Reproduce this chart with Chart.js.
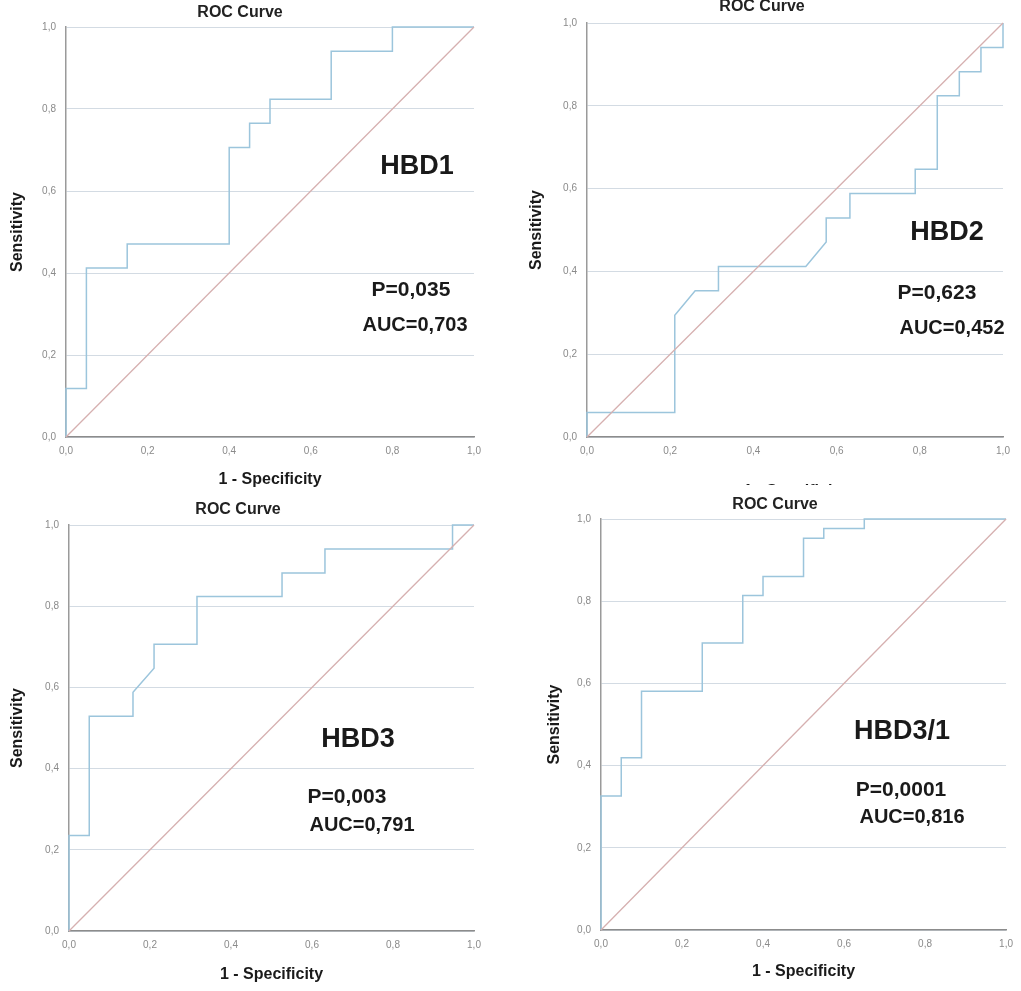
<!DOCTYPE html>
<html>
<head>
<meta charset="utf-8">
<script src="https://cdn.jsdelivr.net/npm/chart.js@4.4.1/dist/chart.umd.min.js"></script>
<style>
    body { margin: 0; background: #fff; }
    #wrap { position: relative; width: 1021px; height: 991px; overflow: hidden; }
    canvas { position: absolute; }
    #c4 { background: #fff; z-index: 2; }
</style>
</head>
<body>
<div id="wrap">
    <canvas id="c1" width="510" height="495" style="left:0;top:0"></canvas>
    <canvas id="c2" width="511" height="500" style="left:510px;top:0"></canvas>
    <canvas id="c3" width="510" height="496" style="left:0;top:495px"></canvas>
    <canvas id="c4" width="511" height="506" style="left:510px;top:485px"></canvas>
</div>
<script>
// ROC curve points (1 - specificity, sensitivity)
const hbd1X = [0, 0, 0.05, 0.05, 0.15, 0.15, 0.40, 0.40, 0.45, 0.45, 0.50, 0.50, 0.65, 0.65, 0.80, 0.80, 1.0];
const hbd1Y = [0, 0.118, 0.118, 0.412, 0.412, 0.471, 0.471, 0.706, 0.706, 0.765, 0.765, 0.824, 0.824, 0.941, 0.941, 1.0, 1.0];

const hbd2X = [0, 0, 0.211, 0.211, 0.26, 0.316, 0.316, 0.526, 0.575, 0.575, 0.632, 0.632, 0.789, 0.789, 0.842, 0.842, 0.895, 0.895, 0.947, 0.947, 1.0, 1.0];
const hbd2Y = [0, 0.059, 0.059, 0.294, 0.353, 0.353, 0.412, 0.412, 0.471, 0.529, 0.529, 0.588, 0.588, 0.647, 0.647, 0.824, 0.824, 0.882, 0.882, 0.941, 0.941, 1.0];

const hbd3X = [0, 0, 0.05, 0.05, 0.158, 0.158, 0.21, 0.21, 0.316, 0.316, 0.526, 0.526, 0.632, 0.632, 0.947, 0.947, 1.0];
const hbd3Y = [0, 0.235, 0.235, 0.529, 0.529, 0.588, 0.647, 0.706, 0.706, 0.824, 0.824, 0.882, 0.882, 0.941, 0.941, 1.0, 1.0];

const hbd31X = [0, 0, 0.05, 0.05, 0.10, 0.10, 0.25, 0.25, 0.35, 0.35, 0.40, 0.40, 0.50, 0.50, 0.55, 0.55, 0.65, 0.65, 1.0];
const hbd31Y = [0, 0.326, 0.326, 0.419, 0.419, 0.581, 0.581, 0.698, 0.698, 0.814, 0.814, 0.860, 0.860, 0.953, 0.953, 0.977, 0.977, 1.0, 1.0];

const refX = [0, 1];
const refY = [0, 1];

const axisTicks = [0, 0.2, 0.4, 0.6, 0.8, 1.0];

const markerNames = ['HBD1', 'HBD2', 'HBD3', 'HBD3/1'];
const pValues = ['0,035', '0,623', '0,003', '0,0001'];
const aucValues = ['0,703', '0,452', '0,791', '0,816'];

const FONT = "'Liberation Sans', Arial, sans-serif";

// layout of each panel inside its canvas
const panels = [
    { id: 'c1', x: hbd1X, y: hbd1Y, yW: 66, xH: 58, pad: { top: 27, right: 36 }, xtPad: 7, ytPad: 10,
      title: [240, 13], name: [417, 167], p: [411, 290], auc: [415, 325] },
    { id: 'c2', x: hbd2X, y: hbd2Y, yW: 77, xH: 63, pad: { top: 23, right: 18 }, xtPad: 0, ytPad: 19,
      title: [252, 7], name: [437, 233], p: [427, 293], auc: [442, 328] },
    { id: 'c3', x: hbd3X, y: hbd3Y, yW: 69, xH: 60, pad: { top: 30, right: 36 }, xtPad: 8, ytPad: 10,
      title: [238, 15], name: [358, 245], p: [347, 302], auc: [362, 330] },
    { id: 'c4', x: hbd31X, y: hbd31Y, yW: 91, xH: 61, pad: { top: 34, right: 11 }, xtPad: 11, ytPad: 37,
      title: [265, 20], name: [392, 247], p: [391, 305], auc: [402, 332] }
];

const fmt = v => v.toFixed(1).replace('.', ',');

function toPoints(xs, ys) {
    return xs.map((x, i) => ({ x: x, y: ys[i] }));
}

const panelText = {
    id: 'panelText',
    afterDraw(chart, args, opts) {
        const ctx = chart.ctx;
        ctx.save();
        ctx.textAlign = 'center';
        ctx.textBaseline = 'middle';
        ctx.fillStyle = '#222';
        ctx.font = 'bold 16px ' + FONT;
        ctx.fillText('ROC Curve', opts.title[0], opts.title[1]);
        ctx.fillStyle = '#1a1a1a';
        ctx.font = 'bold 27px ' + FONT;
        ctx.fillText(opts.name, opts.namePos[0], opts.namePos[1]);
        ctx.font = 'bold 21px ' + FONT;
        ctx.fillText('P=' + opts.pVal, opts.pPos[0], opts.pPos[1]);
        ctx.font = 'bold 20px ' + FONT;
        ctx.fillText('AUC=' + opts.auc, opts.aucPos[0], opts.aucPos[1]);
        ctx.restore();
    }
};

panels.forEach((p, i) => {
    const ctx = document.getElementById(p.id).getContext('2d');
    new Chart(ctx, {
        type: 'scatter',
        data: {
            datasets: [{
                data: toPoints(refX, refY),
                showLine: true,
                borderColor: '#d6b0b0',
                borderWidth: 1.3,
                pointRadius: 0,
                clip: 3
            }, {
                data: toPoints(p.x, p.y),
                showLine: true,
                borderColor: '#9cc5dc',
                borderWidth: 1.5,
                pointRadius: 0,
                clip: 3
            }]
        },
        options: {
            responsive: false,
            animation: false,
            devicePixelRatio: 1,
            layout: { padding: { left: 0, top: p.pad.top, right: p.pad.right, bottom: 0 } },
            plugins: {
                legend: { display: false },
                tooltip: { enabled: false },
                panelText: {
                    title: p.title,
                    name: markerNames[i], namePos: p.name,
                    pVal: pValues[i], pPos: p.p,
                    auc: aucValues[i], aucPos: p.auc
                }
            },
            scales: {
                x: {
                    type: 'linear',
                    min: 0,
                    max: 1,
                    afterBuildTicks: s => { s.ticks = axisTicks.map(v => ({ value: v })); },
                    afterFit: s => { s.height = p.xH; },
                    grid: { display: false, drawTicks: false },
                    border: { display: true, color: '#8c8c8c', width: 1.5 },
                    ticks: { padding: 8, color: '#8a8a8a', font: { family: FONT, size: 10 }, callback: fmt, maxRotation: 0 },
                    title: { display: true, text: '1 - Specificity', color: '#1a1a1a',
                             font: { family: FONT, size: 16, weight: 'bold', lineHeight: 1 },
                             padding: { top: 0, bottom: p.xtPad } }
                },
                y: {
                    type: 'linear',
                    min: 0,
                    max: 1,
                    afterBuildTicks: s => { s.ticks = axisTicks.map(v => ({ value: v })); },
                    afterFit: s => { s.width = p.yW; },
                    grid: { color: '#d3dbe3', lineWidth: 1, drawTicks: false },
                    border: { display: true, color: '#9a9a9a', width: 1.5 },
                    ticks: { padding: 10, color: '#8a8a8a', font: { family: FONT, size: 10 }, callback: fmt },
                    title: { display: true, text: 'Sensitivity', color: '#1a1a1a',
                             font: { family: FONT, size: 16, weight: 'bold', lineHeight: 1 },
                             padding: { top: p.ytPad, bottom: 0 } }
                }
            }
        },
        plugins: [panelText]
    });
});
</script>
</body>
</html>
